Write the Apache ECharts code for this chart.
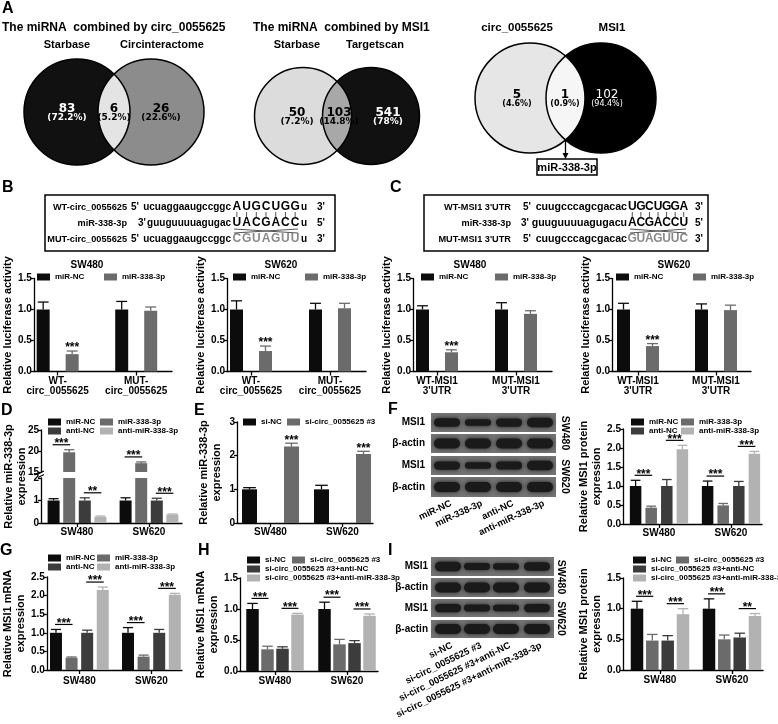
<!DOCTYPE html>
<html><head><meta charset="utf-8">
<script src="https://cdn.jsdelivr.net/npm/echarts@6/dist/echarts.min.js"></script>
<style>html,body{margin:0;padding:0;background:#fff}#c{width:778px;height:724px}</style>
</head><body><div id="c"></div>
<script>
// ================= DATA =================
const cells = ['SW480', 'SW620'];

// Panel A - Venn diagrams
const vennA1Title = 'The miRNA  combined by circ_0055625';
const vennA1Sets = ['Starbase', 'Circinteractome'];
const vennA1Counts = [83, 6, 26];
const vennA1Pcts = ['(72.2%)', '(5.2%)', '(22.6%)'];
const vennA2Title = 'The miRNA  combined by MSI1';
const vennA2Sets = ['Starbase', 'Targetscan'];
const vennA2Counts = [50, 103, 541];
const vennA2Pcts = ['(7.2%)', '(14.8%)', '(78%)'];
const vennA3Sets = ['circ_0055625', 'MSI1'];
const vennA3Counts = [5, 1, 102];
const vennA3Pcts = ['(4.6%)', '(0.9%)', '(94.4%)'];
const vennA3Shared = 'miR-338-3p';

// Panels B/C - binding sequences
const seqB = [
  ['WT-circ_0055625', "5'", 'ucuaggaaugccggc', 'AUGCUGG', 'u', "3'"],
  ['miR-338-3p', "3'", 'guuguuuuagugac', 'UACGACC', 'u', "5'"],
  ['MUT-circ_0055625', "5'", 'ucuaggaaugccggc', 'CGUAGUU', 'u', "3'"]
];
const seqC = [
  ["WT-MSI1 3'UTR", "5'", 'cuugcccagcgacac', 'UGCUGGA', '', "3'"],
  ['miR-338-3p', "3'", 'guuguuuuagugacu', 'ACGACCU', '', "5'"],
  ["MUT-MSI1 3'UTR", "5'", 'cuugcccagcgacac', 'GUAGUUC', '', "3'"]
];

// Panels B/C - luciferase activity
const lucCatsB = ['WT-\ncirc_0055625', 'MUT-\ncirc_0055625'];
const lucCatsC = ["WT-MSI1\n3'UTR", "MUT-MSI1\n3'UTR"];
const B_SW480_miRNC = [1.00, 1.00], B_SW480_miRNC_sd = [0.12, 0.13];
const B_SW480_miR338 = [0.28, 0.98], B_SW480_miR338_sd = [0.05, 0.06];
const B_SW620_miRNC = [1.00, 1.00], B_SW620_miRNC_sd = [0.14, 0.10];
const B_SW620_miR338 = [0.33, 1.02], B_SW620_miR338_sd = [0.08, 0.08];
const C_SW480_miRNC = [1.00, 1.00], C_SW480_miRNC_sd = [0.06, 0.11];
const C_SW480_miR338 = [0.31, 0.93], C_SW480_miR338_sd = [0.04, 0.05];
const C_SW620_miRNC = [1.00, 1.00], C_SW620_miRNC_sd = [0.10, 0.09];
const C_SW620_miR338 = [0.41, 0.99], C_SW620_miR338_sd = [0.04, 0.08];

// Panel D - miR-338-3p expression
const D_miRNC = [1.00, 1.00], D_miRNC_sd = [0.08, 0.12];
const D_miR338 = [19.7, 17.1], D_miR338_sd = [0.6, 0.3];
const D_antiNC = [1.00, 1.00], D_antiNC_sd = [0.12, 0.10];
const D_antiMiR = [0.27, 0.37], D_antiMiR_sd = [0.04, 0.03];
const D_sig = [[0, 0, 1, '***'], [0, 2, 3, '**'], [1, 0, 1, '***'], [1, 2, 3, '***']];

// Panel E
const E_siNC = [1.00, 1.00], E_siNC_sd = [0.05, 0.12];
const E_siCirc = [2.27, 2.05], E_siCirc_sd = [0.10, 0.08];
const E_stars = [[0, 1, '***'], [1, 1, '***']];

// Panel F - MSI1 protein
const F_miRNC = [1.00, 1.00], F_miRNC_sd = [0.15, 0.13];
const F_miR338 = [0.43, 0.49], F_miR338_sd = [0.04, 0.05];
const F_antiNC = [1.00, 1.00], F_antiNC_sd = [0.17, 0.12];
const F_antiMiR = [1.97, 1.85], F_antiMiR_sd = [0.10, 0.06];
const F_sig = [[0, 0, 1, '***'], [0, 2, 3, '***'], [1, 0, 1, '***'], [1, 2, 3, '***']];
const F_lanes = ['miR-NC', 'miR-338-3p', 'anti-NC', 'anti-miR-338-3p'];
const F_bandMSI1_SW480 = [0.8, 0.5, 0.75, 0.9];
const F_bandMSI1_SW620 = [0.75, 0.5, 0.7, 0.9];

// Panel G - MSI1 mRNA
const G_miRNC = [1.00, 1.00], G_miRNC_sd = [0.09, 0.14];
const G_miR338 = [0.33, 0.36], G_miR338_sd = [0.02, 0.04];
const G_antiNC = [1.00, 1.00], G_antiNC_sd = [0.07, 0.09];
const G_antiMiR = [2.15, 2.02], G_antiMiR_sd = [0.08, 0.04];
const G_sig = [[0, 0, 1, '***'], [0, 2, 3, '***'], [1, 0, 1, '***'], [1, 2, 3, '***']];

// Panel H - MSI1 mRNA (rescue)
const H_siNC = [1.00, 1.00], H_siNC_sd = [0.09, 0.11];
const H_siCirc = [0.35, 0.43], H_siCirc_sd = [0.05, 0.08];
const H_antiNC = [0.36, 0.45], H_antiNC_sd = [0.03, 0.04];
const H_antiMiR = [0.91, 0.89], H_antiMiR_sd = [0.02, 0.03];
const H_sig = [[0, 0, 1, '***'], [0, 2, 3, '***'], [1, 0, 1, '***'], [1, 2, 3, '***']];

// Panel I - MSI1 protein (rescue)
const I_siNC = [1.00, 1.00], I_siNC_sd = [0.12, 0.16];
const I_siCirc = [0.48, 0.50], I_siCirc_sd = [0.10, 0.07];
const I_antiNC = [0.48, 0.53], I_antiNC_sd = [0.08, 0.07];
const I_antiMiR = [0.91, 0.88], I_antiMiR_sd = [0.09, 0.04];
const I_sig = [[0, 0, 1, '***'], [0, 2, 3, '***'], [1, 0, 1, '***'], [1, 2, 3, '**']];
const I_lanes = ['si-NC', 'si-circ_0055625 #3', 'si-circ_0055625 #3+anti-NC', 'si-circ_0055625 #3+anti-miR-338-3p'];
const I_bandMSI1_SW480 = [0.95, 0.55, 0.5, 0.8];
const I_bandMSI1_SW620 = [0.75, 0.55, 0.5, 0.75];

// ================= BUILD =================
const FONT = '"Liberation Sans", Arial, sans-serif';
const VFONT = '"DejaVu Sans", sans-serif';
const COL = {black: '#0c0c0c', gray: '#6b6b6b', dark: '#3c3c3c', light: '#b2b2b2'};
const option = {animation: false, grid: [], xAxis: [], yAxis: [], series: [], legend: [], graphic: {elements: []}};
const GE = option.graphic.elements;

function T(text, x, y, o = {}) {
  GE.push({type: 'text', x, y, rotation: o.rot || 0, silent: true, z: 10,
    style: {text, font: `${o.w || 'bold'} ${o.s || 10}px ${o.f || FONT}`, fill: o.c || '#000',
      textAlign: o.a || 'left', textVerticalAlign: o.v || 'middle', align: o.a || 'left', verticalAlign: o.v || 'middle'}});
}
function L(x1, y1, x2, y2, w = 1.2, c = '#000') {
  GE.push({type: 'line', silent: true, z: 20, shape: {x1, y1, x2, y2}, style: {stroke: c, lineWidth: w}});
}
function R(x, y, width, height, fill, stroke, lw = 1.5) {
  GE.push({type: 'rect', silent: true, shape: {x, y, width, height},
    style: {fill: fill || 'none', stroke: stroke || null, lineWidth: lw}});
}
function Circ(cx, cy, r, fill, stroke) {
  GE.push({type: 'circle', silent: true, shape: {cx, cy, r}, style: {fill: fill || 'none', stroke: stroke || null, lineWidth: 1.5}});
}

// ---------- Venn ----------
function venn(c1, c2, cy, r, fills, counts, pcts, txtCols, txtPos, pctSize, weights) {
  Circ(c1, cy, r, fills[0], null);
  Circ(c2, cy, r, fills[2], null);
  const a = (c2 - c1) / 2, h = Math.sqrt(r * r - a * a), mx = c1 + a;
  const ang = Math.atan2(h, a), pts = [];
  for (let i = 0; i <= 40; i++) { const t = -ang + 2 * ang * i / 40; pts.push([c1 + r * Math.cos(t), cy + r * Math.sin(t)]); }
  for (let i = 0; i <= 40; i++) { const t = Math.PI - ang + 2 * ang * i / 40; pts.push([c2 + r * Math.cos(t), cy + r * Math.sin(t)]); }
  GE.push({type: 'polygon', silent: true, shape: {points: pts}, style: {fill: fills[1]}});
  Circ(c1, cy, r, null, '#000');
  Circ(c2, cy, r, null, '#000');
  for (let i = 0; i < 3; i++) {
    const w = (weights && weights[i]) || 'bold';
    T(String(counts[i]), txtPos[i], cy - 3, {a: 'center', s: 12, f: VFONT, c: txtCols[i], w});
    T(pcts[i], txtPos[i], cy + 6, {a: 'center', s: pctSize, f: VFONT, c: txtCols[i], w});
  }
  return {mx, bottom: cy + h};
}
T('A', 2, 9, {s: 16});
T(vennA1Title, 2, 28, {s: 12});
T(vennA1Sets[0], 67, 45, {a: 'center', s: 11});
T(vennA1Sets[1], 162, 45, {a: 'center', s: 11});
venn(77, 151, 112, 53, ['#111111', '#e4e4e4', '#8c8c8c'], vennA1Counts, vennA1Pcts, ['#fff', '#000', '#000'], [67, 114, 161], 9);
T(vennA2Title, 253, 28, {s: 12});
T(vennA2Sets[0], 297, 45, {a: 'center', s: 11});
T(vennA2Sets[1], 375, 45, {a: 'center', s: 11});
venn(303, 371, 116, 48.5, ['#dcdcdc', '#a8a8a8', '#111111'], vennA2Counts, vennA2Pcts, ['#000', '#000', '#fff'], [297, 339, 388], 9);
T(vennA3Sets[0], 517, 28, {a: 'center', s: 11.5});
T(vennA3Sets[1], 612, 28, {a: 'center', s: 11.5});
const v3 = venn(530, 601, 98, 55, ['#e6e6e6', '#f6f6f6', '#000000'], vennA3Counts, vennA3Pcts, ['#000', '#000', '#fff'], [517, 565, 607], 8, ['bold', 'bold', 'normal']);
L(v3.mx, v3.bottom, v3.mx, 155, 1.3);
GE.push({type: 'polygon', silent: true, shape: {points: [[v3.mx - 3, 153], [v3.mx + 3, 153], [v3.mx, 159]]}, style: {fill: '#000'}});
R(537, 159, 60, 16, '#fff', '#000', 1.5);
T(vennA3Shared, 567, 167.5, {a: 'center', s: 11});

// ---------- Sequence boxes ----------
function seqBox(bx, by, bw, bh, rows, lblRight, p1X, p1XRow2, blockX0, blockX1, endX, lineYs, seqSize) {
  R(bx, by, bw, bh, '#fff', '#000', 1.5);
  const step = (blockX1 - blockX0) / 7;
  rows.forEach((r, i) => {
    const y = lineYs[i];
    T(r[0], lblRight, y, {a: 'right', s: 9.2});
    T(r[1], i === 1 ? p1XRow2 : p1X, y, {s: 10});
    T(r[2], blockX0 - 1, y, {a: 'right', s: seqSize});
    for (let k = 0; k < r[3].length; k++) {
      T(r[3][k], blockX0 + (k + 0.5) * step, y, {a: 'center', s: 12, c: i === 2 ? '#8a8a8a' : '#000'});
    }
    if (r[4]) T(r[4], blockX1 + 1, y, {s: seqSize});
    T(r[5], endX, y, {s: 10});
  });
  for (let k = 0; k < 7; k++) {
    const x = blockX0 + (k + 0.5) * step;
    L(x, lineYs[0] + 5, x, lineYs[1] - 6, 1, '#555');
  }
  L(blockX0 + 2, lineYs[1] + 6, blockX1 - 2, lineYs[2] - 6, 1, '#555');
  L(blockX0 + 2, lineYs[2] - 6, blockX1 - 2, lineYs[1] + 6, 1, '#555');
}
T('B', 2, 188, {s: 16});
T('C', 390, 188, {s: 16});
seqBox(45, 195, 290, 56, seqB, 127, 131, 138, 232, 300, 317, [207, 223, 239], 10);
seqBox(424, 195, 284, 56, seqC, 511, 523, 521, 628, 688, 695, [207, 223, 239], 10.6);

// ---------- Bar charts ----------
const fmt1 = v => v.toFixed(1);
const fmt0 = v => String(v);
const axisStyle = {color: '#000', width: 1.3};
const lblStyle = {color: '#000', fontWeight: 'bold', fontSize: 10, fontFamily: FONT};

function addChart(cfg) {
  const gi = option.grid.length;
  option.grid.push({left: cfg.axisX, top: cfg.yTop, width: cfg.endX - cfg.axisX, height: cfg.yBot - cfg.yTop});
  const unit = cfg.centers[1] - cfg.centers[0];
  const xmin = 1 - (cfg.centers[0] - cfg.axisX) / unit;
  const xmax = 2 + (cfg.endX - cfg.centers[1]) / unit;
  const showX = cfg.showX !== false;
  option.xAxis.push({gridIndex: gi, type: 'value', min: xmin, max: xmax, show: showX,
    axisLine: {show: true, onZero: false, lineStyle: axisStyle},
    axisTick: {show: true, customValues: [1, 2], length: 4, lineStyle: axisStyle},
    axisLabel: {show: true, customValues: [1, 2], formatter: v => cfg.cats[Math.round(v) - 1] || '',
      margin: cfg.xMargin || 4, lineHeight: 10, ...lblStyle},
    splitLine: {show: false}});
  const showY = cfg.showY !== false;
  option.yAxis.push({gridIndex: gi, type: 'value', min: cfg.min, max: cfg.max, interval: cfg.interval,
    axisLine: {show: showY, onZero: false, lineStyle: axisStyle},
    axisTick: {show: showY, length: 3, lineStyle: axisStyle},
    axisLabel: {show: showY, formatter: cfg.yFmt || fmt1, margin: 2, ...lblStyle},
    splitLine: {show: false},
    name: cfg.yName || '', nameLocation: 'middle', nameGap: cfg.nameGap || 15, nameRotate: 90,
    nameTextStyle: {color: '#000', fontWeight: 'bold', fontSize: 11, fontFamily: FONT, lineHeight: 13}});
  (cfg.series || []).forEach((s, si) => {
    const off = cfg.offsets[si], w = cfg.barW;
    option.series.push({type: 'custom', name: s.name, xAxisIndex: gi, yAxisIndex: gi, silent: true, clip: false,
      itemStyle: {color: s.color}, encode: {x: 0, y: 1},
      data: s.vals.map((v, i) => [i + 1, v, s.sds[i]]),
      renderItem: (params, api) => {
        const x = api.value(0), v = api.value(1), sd = api.value(2);
        if (v <= cfg.min) return;
        const top = Math.min(v, cfg.max);
        const pt = api.coord([x, top]), pb = api.coord([x, cfg.min]);
        const cx = pt[0] + off;
        const ch = [{type: 'rect', shape: {x: cx - w / 2, y: pt[1], width: w, height: pb[1] - pt[1]}, style: {fill: s.color}}];
        if (v + sd <= cfg.max) {
          const pe = api.coord([x, v + sd]);
          const ec = s.err || s.color;
          ch.push({type: 'line', shape: {x1: cx, y1: pt[1], x2: cx, y2: pe[1]}, style: {stroke: ec, lineWidth: 1.3}});
          ch.push({type: 'line', shape: {x1: cx - w * 0.42, y1: pe[1], x2: cx + w * 0.42, y2: pe[1]}, style: {stroke: ec, lineWidth: 1.3}});
        }
        return {type: 'group', children: ch};
      }});
  });
  const starTxt = (x, y, t) => ({type: 'text', x, y, style: {text: t, font: `bold 12px ${FONT}`, fill: '#000',
    textAlign: 'center', textVerticalAlign: 'bottom', align: 'center', verticalAlign: 'bottom'}});
  if (cfg.sig) {
    option.series.push({type: 'custom', xAxisIndex: gi, yAxisIndex: gi, silent: true, clip: false, encode: {x: 0, y: 1},
      data: cfg.sig.map(s => [s[0] + 1, Math.max(cfg.series[s[1]].vals[s[0]] + cfg.series[s[1]].sds[s[0]],
        cfg.series[s[2]].vals[s[0]] + cfg.series[s[2]].sds[s[0]])]),
      renderItem: (params, api) => {
        const s = cfg.sig[params.dataIndex];
        const x = api.value(0), y = api.value(1);
        if (y <= cfg.min || y > cfg.max) return;
        const p = api.coord([x, y]);
        const x1 = p[0] + cfg.offsets[s[1]] - 1, x2 = p[0] + cfg.offsets[s[2]] + 1, ly = p[1] - 5;
        return {type: 'group', children: [
          {type: 'line', shape: {x1, y1: ly, x2, y2: ly}, style: {stroke: '#000', lineWidth: 1.2}},
          starTxt((x1 + x2) / 2, ly + 5, s[3])]};
      }});
  }
  if (cfg.stars) {
    option.series.push({type: 'custom', xAxisIndex: gi, yAxisIndex: gi, silent: true, clip: false, encode: {x: 0, y: 1},
      data: cfg.stars.map(s => [s[0] + 1, cfg.series[s[1]].vals[s[0]] + cfg.series[s[1]].sds[s[0]]]),
      renderItem: (params, api) => {
        const s = cfg.stars[params.dataIndex];
        const p = api.coord([api.value(0), api.value(1)]);
        return starTxt(p[0] + cfg.offsets[s[1]], p[1] + 3, s[2]);
      }});
  }
  if (cfg.title) T(cfg.title[0], cfg.title[1], cfg.title[2], {a: 'center', s: 10});
}
function addLegend(left, rowY, names) {
  option.legend.push({left, top: rowY - 4, orient: 'vertical', data: names, icon: 'rect', itemWidth: 13, itemHeight: 7,
    itemGap: 1, padding: 0, selectedMode: false,
    textStyle: {fontSize: 8, fontWeight: 'bold', color: '#000', fontFamily: FONT, lineHeight: 8}});
}
const S = (name, color, vals, sds) => ({name, color, vals, sds});

// ----- B / C -----
function lucChart(axisX, centers, cats, nc, ncSd, mi, miSd, title, titleX) {
  addChart({axisX, endX: axisX + 139, yTop: 278.5, yBot: 371.5, min: 0, max: 1.5, interval: 0.5, centers,
    offsets: [-14.5, 14.5], barW: 13, cats, xMargin: 5, yName: 'Relative luciferase activity', nameGap: 18,
    series: [S('miR-NC', COL.black, nc, ncSd), S('miR-338-3p', COL.gray, mi, miSd)],
    stars: [[0, 1, '***']], title: [title, titleX, 265]});
}
lucChart(33, [57, 136], lucCatsB, B_SW480_miRNC, B_SW480_miRNC_sd, B_SW480_miR338, B_SW480_miR338_sd, cells[0], 87);
lucChart(227, [251, 330], lucCatsB, B_SW620_miRNC, B_SW620_miRNC_sd, B_SW620_miR338, B_SW620_miR338_sd, cells[1], 281);
lucChart(413, [437, 516], lucCatsC, C_SW480_miRNC, C_SW480_miRNC_sd, C_SW480_miR338, C_SW480_miR338_sd, cells[0], 470);
lucChart(612, [638, 716], lucCatsC, C_SW620_miRNC, C_SW620_miRNC_sd, C_SW620_miR338, C_SW620_miR338_sd, cells[1], 674);
addLegend(37, 277, ['miR-NC']); addLegend(104, 277, ['miR-338-3p']);
addLegend(233, 277, ['miR-NC']); addLegend(305, 277, ['miR-338-3p']);
addLegend(421, 277, ['miR-NC']); addLegend(495, 277, ['miR-338-3p']);
addLegend(616, 277, ['miR-NC']); addLegend(693, 277, ['miR-338-3p']);

const OFF4 = [-23.4, -7.8, 7.8, 23.4];
// ----- D (broken axis) -----
T('D', 1, 411, {s: 16});
const dSeries = [S('miR-NC', COL.black, D_miRNC, D_miRNC_sd), S('miR-338-3p', COL.gray, D_miR338, D_miR338_sd),
  S('anti-NC', COL.dark, D_antiNC, D_antiNC_sd), S('anti-miR-338-3p', COL.light, D_antiMiR, D_antiMiR_sd)];
addChart({axisX: 41, endX: 182, yTop: 478, yBot: 523, min: 0, max: 2, interval: 1, centers: [77, 149], offsets: OFF4,
  barW: 12, cats: cells, yFmt: fmt0, series: dSeries, sig: D_sig, xMargin: 4});
addChart({axisX: 41, endX: 182, yTop: 430, yBot: 472, min: 15, max: 25, interval: 5, centers: [77, 149], offsets: OFF4,
  barW: 12, cats: cells, yFmt: fmt0, series: dSeries, sig: D_sig, showX: false});
addChart({axisX: 41, endX: 182, yTop: 430, yBot: 523, min: 0, max: 1, interval: 1, centers: [77, 149], offsets: OFF4,
  barW: 12, cats: cells, showX: false, showY: false, yName: 'Relative miR-338-3p\nexpression', nameGap: 12.5});
addLegend(48, 422, ['miR-NC', 'anti-NC']); addLegend(100, 422, ['miR-338-3p', 'anti-miR-338-3p']);
// axis break marks
L(38, 474, 44, 471, 1.1); L(38, 477.5, 44, 474.5, 1.1);

// ----- E -----
T('E', 194, 411, {s: 16});
addChart({axisX: 237, endX: 373, yTop: 422, yBot: 523, min: 0, max: 3, interval: 1, centers: [270.5, 342.5],
  offsets: [-21, 21], barW: 15, cats: cells, yFmt: fmt0, xMargin: 4,
  series: [S('si-NC', COL.black, E_siNC, E_siNC_sd), S('si-circ_0055625 #3', COL.gray, E_siCirc, E_siCirc_sd)],
  stars: E_stars, yName: 'Relative miR-338-3p\nexpression', nameGap: 13.5});
addLegend(243, 422, ['si-NC']); addLegend(287, 422, ['si-circ_0055625 #3']);

// ----- F -----
T('F', 388, 410, {s: 16});
addChart({axisX: 623, endX: 762, yTop: 429, yBot: 524, min: 0, max: 2.5, interval: 0.5, centers: [659, 731],
  offsets: OFF4, barW: 11.5, cats: cells, xMargin: 4,
  series: [S('miR-NC', COL.black, F_miRNC, F_miRNC_sd), S('miR-338-3p', COL.gray, F_miR338, F_miR338_sd),
    S('anti-NC', COL.dark, F_antiNC, F_antiNC_sd), S('anti-miR-338-3p', COL.light, F_antiMiR, F_antiMiR_sd)],
  sig: F_sig, yName: 'Relative MSI1 protein\nexpression', nameGap: 14.5});
addLegend(631, 422, ['miR-NC', 'anti-NC']); addLegend(681, 422, ['miR-338-3p', 'anti-miR-338-3p']);

// ----- G -----
T('G', 0, 551, {s: 16});
addChart({axisX: 45, endX: 182, yTop: 577, yBot: 670, min: 0, max: 2.5, interval: 0.5, centers: [78, 151],
  offsets: OFF4, barW: 12, cats: cells, xMargin: 6,
  series: [S('miR-NC', COL.black, G_miRNC, G_miRNC_sd), S('miR-338-3p', COL.gray, G_miR338, G_miR338_sd),
    S('anti-NC', COL.dark, G_antiNC, G_antiNC_sd), S('anti-miR-338-3p', COL.light, G_antiMiR, G_antiMiR_sd)],
  sig: G_sig, yName: 'Relative MSI1 mRNA\nexpression', nameGap: 16.5});
addLegend(48, 558, ['miR-NC', 'anti-NC']); addLegend(97, 558, ['miR-338-3p', 'anti-miR-338-3p']);

// ----- H -----
T('H', 198, 551, {s: 16});
addChart({axisX: 240, endX: 378, yTop: 578, yBot: 671, min: 0, max: 1.5, interval: 0.5, centers: [275, 347],
  offsets: [-22.5, -7.5, 7.5, 22.5], barW: 12.5, cats: cells, xMargin: 5,
  series: [S('si-NC', COL.black, H_siNC, H_siNC_sd), S('si-circ_0055625 #3', COL.gray, H_siCirc, H_siCirc_sd),
    S('si-circ_0055625 #3+anti-NC', COL.dark, H_antiNC, H_antiNC_sd),
    S('si-circ_0055625 #3+anti-miR-338-3p', COL.light, H_antiMiR, H_antiMiR_sd)],
  sig: H_sig, yName: 'Relative MSI1 mRNA\nexpression', nameGap: 16.5});
addLegend(247, 560, ['si-NC', 'si-circ_0055625 #3+anti-NC', 'si-circ_0055625 #3+anti-miR-338-3p']);
addLegend(292, 560, ['si-circ_0055625 #3']);

// ----- I -----
T('I', 388, 551, {s: 16});
addChart({axisX: 623, endX: 763, yTop: 578, yBot: 670, min: 0, max: 1.5, interval: 0.5, centers: [660, 732],
  offsets: [-23, -7.7, 7.7, 23], barW: 12.5, cats: cells, xMargin: 5,
  series: [S('si-NC', COL.black, I_siNC, I_siNC_sd), S('si-circ_0055625 #3', COL.gray, I_siCirc, I_siCirc_sd),
    S('si-circ_0055625 #3+anti-NC', COL.dark, I_antiNC, I_antiNC_sd),
    S('si-circ_0055625 #3+anti-miR-338-3p', COL.light, I_antiMiR, I_antiMiR_sd)],
  sig: I_sig, yName: 'Relative MSI1 protein\nexpression', nameGap: 12.5});
addLegend(633, 560, ['si-NC', 'si-circ_0055625 #3+anti-NC', 'si-circ_0055625 #3+anti-miR-338-3p']);
addLegend(676, 560, ['si-circ_0055625 #3']);

// ---------- Western blots ----------
function blot(x0, x1, rows, lanes, msiA, msiB, lblRight, sideX, laneNames, laneY, rot) {
  const rowNames = ['MSI1', 'β-actin', 'MSI1', 'β-actin'];
  const inten = [msiA, [1, 1, 1, 1], msiB, [1, 1, 1, 1]];
  rows.forEach((r, i) => {
    R(x0, r[0], x1 - x0, r[1] - r[0], '#737373', null, 0);
    T(rowNames[i], lblRight, (r[0] + r[1]) / 2, {a: 'right', s: 10});
    const cy = (r[0] + r[1]) / 2;
    lanes.forEach((lx, k) => {
      const hgt = 3 + 7 * inten[i][k];
      GE.push({type: 'rect', silent: true, shape: {x: lx - 13, y: cy - hgt / 2, width: 26, height: hgt, r: hgt / 2},
        style: {fill: '#1a1a1a', shadowBlur: 4, shadowColor: 'rgba(20,20,20,0.9)'}});
    });
  });
  T(cells[0], sideX, (rows[0][0] + rows[1][1]) / 2, {a: 'center', s: 10.5, rot: -Math.PI / 2});
  T(cells[1], sideX, (rows[2][0] + rows[3][1]) / 2, {a: 'center', s: 10.5, rot: -Math.PI / 2});
  laneNames.forEach((n, k) => T(n, lanes[k] + 4, laneY, {a: 'right', s: 9.5, rot: rot}));
}
blot(431, 556, [[413, 432], [434, 453], [456, 475], [477, 497]], [447, 478, 509, 540],
  F_bandMSI1_SW480, F_bandMSI1_SW620, 425, 565, F_lanes, 503, 25 * Math.PI / 180);
blot(431, 554, [[557, 576], [578, 597], [599, 617], [620, 638]], [448, 477, 506, 537],
  I_bandMSI1_SW480, I_bandMSI1_SW620, 428, 561, I_lanes, 645, 26 * Math.PI / 180);

const chart = echarts.init(document.getElementById('c'), null, {renderer: 'canvas'});
chart.setOption(option);
</script></body></html>
